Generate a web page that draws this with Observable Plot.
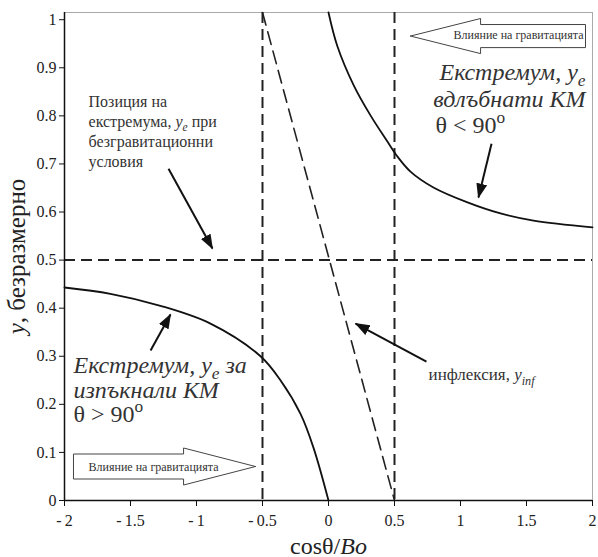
<!DOCTYPE html>
<html><head><meta charset="utf-8">
<script src="https://cdn.jsdelivr.net/npm/d3@7"></script>
<script src="https://cdn.jsdelivr.net/npm/@observablehq/plot@0.6"></script>
<style>
body{margin:0;background:#fff}
#chart svg, #chart svg text, #chart svg tspan { font-family: "Liberation Serif", "Times New Roman", "DejaVu Serif", serif !important; }
</style>
</head><body><div id="chart"></div>
<script>
// ---- data ----
const upperX = [0.0, 0.066, 0.192, 0.318, 0.445, 0.515, 0.621, 0.795, 1.053, 1.303, 1.553, 2.0];
const upperY = [1.015, 0.946, 0.863, 0.801, 0.747, 0.718, 0.684, 0.651, 0.620, 0.597, 0.582, 0.568];
const lowerX = [-2, -1.652, -1.273, -0.894, -0.515, -0.364, -0.212, -0.114, 0];
const lowerY = [0.443, 0.430, 0.405, 0.368, 0.30, 0.25, 0.18, 0.11, 0];
const inflX = [-0.5, 0.5];
const inflY = [1.015, 0];
const refLinesX = [-0.5, 0.5];
const refLinesY = [0.5];
const xTicks = [-2, -1.5, -1, -0.5, 0, 0.5, 1, 1.5, 2];
const yTicks = [0, 0.1, 0.2, 0.3, 0.4, 0.5, 0.6, 0.7, 0.8, 0.9, 1];

const upper = upperX.map((x, i) => ({x, y: upperY[i]}));
const lower = lowerX.map((x, i) => ({x, y: lowerY[i]}));
const infl = inflX.map((x, i) => ({x, y: inflY[i]}));

// ---- annotations (data coordinates) ----
const arrows = [
  {x1: -1.212, y1: 0.69, x2: -0.879, y2: 0.524},
  {x1: 1.235, y1: 0.742, x2: 1.136, y2: 0.63},
  {x1: -1.348, y1: 0.312, x2: -1.197, y2: 0.387},
  {x1: 0.742, y1: 0.289, x2: 0.205, y2: 0.368}
];
const labelsSmall = [
  {x: -1.818, y: 0.819, t: "Позиция на"},
  {x: -1.818, y: 0.777, t: "екстремума, <i>y<sub>e</sub></i> при"},
  {x: -1.818, y: 0.736, t: "безгравитационни"},
  {x: -1.818, y: 0.694, t: "условия"}
];
const labelInfl = [{x: 0.758, y: 0.25, t: "инфлексия, <i>y<sub>inf</sub></i>"}];
const labelsBigEnd = [
  {x: 1.947, y: 0.874, t: "<i>Екстремум, y<sub>e</sub></i>"},
  {x: 1.947, y: 0.819, t: "<i>вдлъбнати КМ</i>"}
];
const labelsBigStart = [
  {x: 0.81, y: 0.765, t: "θ < 90<sup>o</sup>"},
  {x: -1.932, y: 0.266, t: "<i>Екстремум, y<sub>e</sub> за</i>"},
  {x: -1.932, y: 0.214, t: "<i>изпъкнали КМ</i>"},
  {x: -1.932, y: 0.164, t: "θ > 90<sup>o</sup>"}
];
const gravText = "Влияние на гравитацията";
const gravEnd = [{x: 1.932, y: 0.959, t: gravText}];
const gravStart = [{x: -1.818, y: 0.061, t: gravText}];

function blockArrow(tip, head, tail, cy, bh, hh, id) {
  return [
    [tip, cy], [head, cy + hh], [head, cy + bh], [tail, cy + bh],
    [tail, cy - bh], [head, cy - bh], [head, cy - hh], [tip, cy]
  ].map(([x, y]) => ({x, y, id}));
}
const blocks = [
  ...blockArrow(0.621, 1.152, 1.947, 0.966, 0.024, 0.0365, "a"),
  ...blockArrow(-0.553, -1.098, -1.932, 0.0707, 0.026, 0.0385, "b")
];

const serif = "Liberation Serif, Times New Roman, DejaVu Serif, serif";
const ink = "#222";

const chart = Plot.plot({
  width: 598, height: 557,
  marginLeft: 64, marginRight: 6, marginTop: 12, marginBottom: 57,
  x: {domain: [-2, 2]},
  y: {domain: [0, 1.015]},
  style: {fontFamily: serif, background: "#fff", color: ink},
  marks: [
    Plot.frame({stroke: "#aaa", strokeWidth: 1}),
    Plot.ruleY(refLinesY, {stroke: ink, strokeWidth: 2, strokeDasharray: "11,6"}),
    Plot.ruleX(refLinesX, {stroke: ink, strokeWidth: 2, strokeDasharray: "11,6"}),
    Plot.line(infl, {x: "x", y: "y", stroke: ink, strokeWidth: 1.6, strokeDasharray: "13,7"}),
    Plot.line(upper, {x: "x", y: "y", stroke: "#111", strokeWidth: 1.8, curve: "catmull-rom"}),
    Plot.line(lower, {x: "x", y: "y", stroke: "#111", strokeWidth: 1.8, curve: "catmull-rom"}),
    Plot.line(blocks, {x: "x", y: "y", z: "id", stroke: "#444", strokeWidth: 1, strokeLinejoin: "miter"}),
    Plot.link(arrows, {x1: "x1", y1: "y1", x2: "x2", y2: "y2", stroke: "#111", strokeWidth: 2}),
    Plot.ruleX([-2], {stroke: "#111", strokeWidth: 1.5}),
    Plot.ruleY([0], {stroke: "#111", strokeWidth: 1.5}),
    Plot.axisX({ticks: xTicks, tickSize: 6, tickPadding: 8, fontSize: 16, label: null, fontFamily: serif,
      tickFormat: d => d < 0 ? "-\u2009" + Math.abs(d) : String(d), stroke: "#111"}),
    Plot.axisY({ticks: yTicks, tickSize: 5, tickPadding: 3, fontSize: 16, label: null, fontFamily: serif,
      tickFormat: d => String(d), stroke: "#111"}),
    Plot.text(labelsSmall, {x: "x", y: "y", text: "t", textAnchor: "start", lineAnchor: "bottom", fontSize: 16, fontFamily: serif, fill: "#333"}),
    Plot.text(labelInfl, {x: "x", y: "y", text: "t", textAnchor: "start", lineAnchor: "bottom", fontSize: 17, fontFamily: serif, fill: "#333"}),
    Plot.text(labelsBigEnd, {x: "x", y: "y", text: "t", textAnchor: "end", lineAnchor: "bottom", fontSize: 24, fontFamily: serif, fill: "#333"}),
    Plot.text(labelsBigStart, {x: "x", y: "y", text: "t", textAnchor: "start", lineAnchor: "bottom", fontSize: 24, fontFamily: serif, fill: "#333"}),
    Plot.text(gravEnd, {x: "x", y: "y", text: "t", textAnchor: "end", lineAnchor: "bottom", fontSize: 12, fontFamily: serif, fill: "#333"}),
    Plot.text(gravStart, {x: "x", y: "y", text: "t", textAnchor: "start", lineAnchor: "bottom", fontSize: 12, fontFamily: serif, fill: "#333"}),
    Plot.text(["cosθ/<i>Bo</i>"], {frameAnchor: "bottom", textAnchor: "middle", dy: 53, lineAnchor: "bottom", fontSize: 24, fontFamily: serif, fill: ink}),
    Plot.text(["<i>y</i>, безразмерно"], {frameAnchor: "left", textAnchor: "middle", dx: -40, rotate: -90, lineAnchor: "bottom", fontSize: 25, fontFamily: serif, fill: ink})
  ]
});
document.getElementById("chart").appendChild(chart);

// arrowheads (filled triangles) on link marks
const svgNS = "http://www.w3.org/2000/svg";
const defs = document.createElementNS(svgNS, "defs");
defs.innerHTML = '<marker id="ahead" viewBox="0 -6 15 12" refX="14" refY="0" markerWidth="15" markerHeight="12" markerUnits="userSpaceOnUse" orient="auto"><path d="M0,-5.5L15,0L0,5.5Z" fill="#111"/></marker>';
chart.insertBefore(defs, chart.firstChild);
d3.select(chart).selectAll('g[aria-label="link"] path').attr("marker-end", "url(#ahead)");

// rich text: italics, subscripts, superscripts
d3.select(chart).selectAll("text").each(function() {
  this.setAttribute("font-family", serif);
  const s = this.textContent;
  if (!/<\/?(i|sub|sup)>/.test(s)) return;
  const base = parseFloat(getComputedStyle(this).fontSize) || 16;
  const parts = s.split(/(<\/?(?:i|sub|sup)>)/).filter(p => p !== "");
  while (this.firstChild) this.removeChild(this.firstChild);
  let italic = false, mode = 0, shift = 0;
  for (const p of parts) {
    if (p === "<i>") { italic = true; continue; }
    if (p === "</i>") { italic = false; continue; }
    if (p === "<sub>") { mode = 1; continue; }
    if (p === "<sup>") { mode = 2; continue; }
    if (p === "</sub>" || p === "</sup>") { mode = 0; continue; }
    const target = mode === 1 ? base * 0.25 : mode === 2 ? -base * 0.4 : 0;
    const ts = document.createElementNS(svgNS, "tspan");
    if (italic) ts.setAttribute("font-style", "italic");
    if (mode) ts.setAttribute("font-size", (base * 0.72).toFixed(1));
    if (target !== shift) { ts.setAttribute("dy", (target - shift).toFixed(2)); shift = target; }
    ts.textContent = p;
    this.appendChild(ts);
  }
});
</script>
</body></html>
